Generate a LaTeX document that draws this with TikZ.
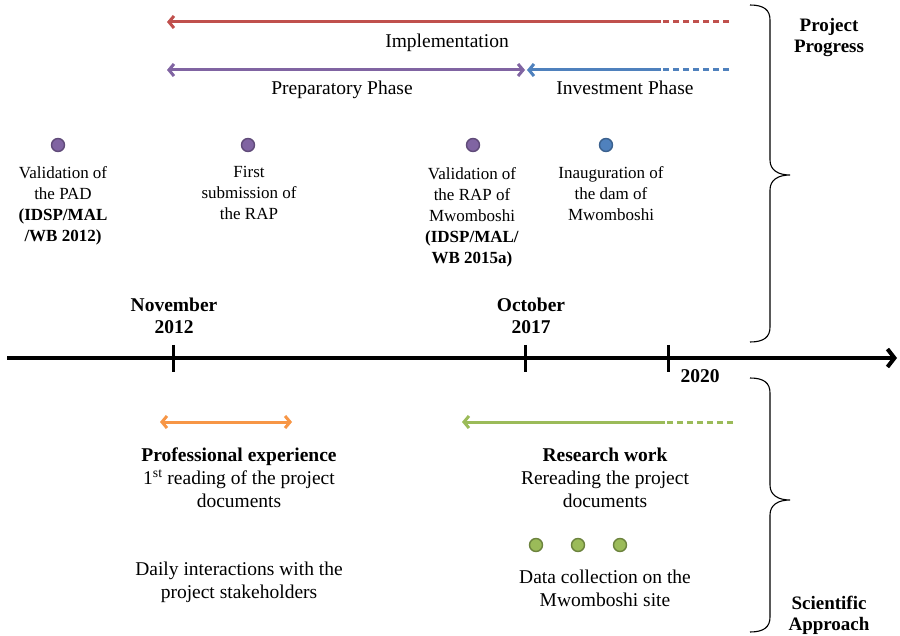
\documentclass[tikz,border=0pt]{standalone}
\usepackage{fontspec}
\setmainfont{Liberation Serif}
\usepackage{xcolor}
\usetikzlibrary{arrows.meta, decorations.pathreplacing, positioning}

\definecolor{implred}{HTML}{C0504D}
\definecolor{prepviolet}{HTML}{8064A2}
\definecolor{investblue}{HTML}{4F81BD}
\definecolor{proforange}{HTML}{F79646}
\definecolor{researchgreen}{HTML}{9BBB59}

\tikzset{
  lbl/.style={align=center, inner sep=0pt, anchor=north, font=\fontsize{17}{21}\selectfont},
  big/.style={align=center, inner sep=0pt, anchor=north, font=\fontsize{19.5}{23}\selectfont},
  phase/.style={line width=3pt, -{Straight Barb[length=5pt,width=12pt]}},
  biphase/.style={line width=3pt, {Straight Barb[length=5pt,width=12pt]}-{Straight Barb[length=5pt,width=12pt]}},
  phasedash/.style={line width=3pt, dash pattern=on 6pt off 4pt},
  dot/.style={circle, inner sep=0pt, minimum size=13pt, line width=1.4pt},
  bracket/.style={line width=1.1pt},
}

\begin{document}
\begin{tikzpicture}[x=1pt,y=-1pt]
    \useasboundingbox (0,0) rectangle (900,636);

    % project progress arrows
    \coordinate (implStart) at (167,22);
    \coordinate (implMid) at (661,22);
    \coordinate (implEnd) at (729,22);
    \draw[implred, phase] (implMid) -- (implStart);
    \draw[implred, phasedash] (implEnd) -- (implMid);
    \node[big] (implLbl) at (447,34) {Implementation};

    \coordinate (prepStart) at (167,70);
    \coordinate (prepEnd) at (525,70);
    \draw[prepviolet, biphase] (prepStart) -- (prepEnd);
    \node[big] (prepLbl) at (342,81) {Preparatory Phase};

    \coordinate (invStart) at (527,70);
    \coordinate (invMid) at (661,70);
    \coordinate (invEnd) at (729,70);
    \draw[investblue, phase] (invMid) -- (invStart);
    \draw[investblue, phasedash] (invEnd) -- (invMid);
    \node[big] (invLbl) at (625,81) {Investment Phase};

    % events
    \node[dot, fill=prepviolet, draw=prepviolet!75!black] (padDot) at (58,145) {};
    \node[dot, fill=prepviolet, draw=prepviolet!75!black] (firstDot) at (248,145) {};
    \node[dot, fill=prepviolet, draw=prepviolet!75!black] (rapDot) at (473,145) {};
    \node[dot, fill=investblue, draw=investblue!75!black] (damDot) at (606,145) {};

    \node[lbl] (padLbl) at (63,166) {Validation of\\the PAD\\\textbf{(IDSP/MAL}\\\textbf{/WB 2012)}};
    \node[lbl] (firstLbl) at (249,166) {First\\submission of\\the RAP};
    \node[lbl] (rapLbl) at (472,167) {Validation of\\the RAP of\\Mwomboshi\\\textbf{(IDSP/MAL/}\\\textbf{WB 2015a)}};
    \node[lbl] (damLbl) at (611,166) {Inauguration of\\the dam of\\Mwomboshi};

    % time axis
    \coordinate (axisStart) at (7,358);
    \coordinate (axisEnd) at (897,358);
    \draw[line width=4pt, -{Straight Barb[length=7pt,width=18pt]}] (axisStart) -- (axisEnd);
    \foreach \tx/\tn in {173/nov, 525/oct, 668/end}
        \draw[line width=3pt] (\tx,345) coordinate (\tn Tick) -- (\tx,372);
    \node[big, font=\fontsize{19.5}{22}\selectfont\bfseries] (novLbl) at (174,298) {November\\2012};
    \node[big, font=\fontsize{19.5}{22}\selectfont\bfseries] (octLbl) at (531,298) {October\\2017};
    \node[big, font=\fontsize{19.5}{22}\selectfont\bfseries] (endLbl) at (700,369) {2020};

    % braces
    \draw[bracket] (750,5) .. controls (764,5) and (770,10) .. (770,20) -- (770,160)
        .. controls (770,170) and (778,175) .. (790,175)
        .. controls (778,175) and (770,180) .. (770,190) -- (770,327)
        .. controls (770,337) and (764,342) .. (750,342);
    \draw[bracket] (750,378) .. controls (764,378) and (770,383) .. (770,393) -- (770,485)
        .. controls (770,495) and (778,500) .. (790,500)
        .. controls (778,500) and (770,505) .. (770,515) -- (770,617)
        .. controls (770,627) and (764,632) .. (750,632);
    \node[big, font=\fontsize{19}{21}\selectfont\bfseries] (progLbl) at (829,18) {Project\\Progress};
    \node[big, font=\fontsize{19}{21}\selectfont\bfseries] (sciLbl) at (829,596) {Scientific\\Approach};

    % scientific approach
    \coordinate (profStart) at (160,422);
    \coordinate (profEnd) at (292,422);
    \draw[proforange, biphase] (profStart) -- (profEnd);
    \node[big] (profLbl) at (239,448) {\textbf{Professional experience}\\1\textsuperscript{st} reading of the project\\documents};
    \node[big] (dailyLbl) at (239,562) {Daily interactions with the\\project stakeholders};

    \coordinate (resStart) at (462,422);
    \coordinate (resMid) at (665,422);
    \coordinate (resEnd) at (733,422);
    \draw[researchgreen, phase] (resMid) -- (resStart);
    \draw[researchgreen, phasedash] (resEnd) -- (resMid);
    \node[big] (resLbl) at (605,448) {\textbf{Research work}\\Rereading the project\\documents};

    \foreach \gx/\gn in {536/a, 578/b, 620/c}
        \node[dot, fill=researchgreen, draw=researchgreen!70!black] (field\gn) at (\gx,545) {};
    \node[big] (fieldLbl) at (605,570) {Data collection on the\\Mwomboshi site};
\end{tikzpicture}
\end{document}
